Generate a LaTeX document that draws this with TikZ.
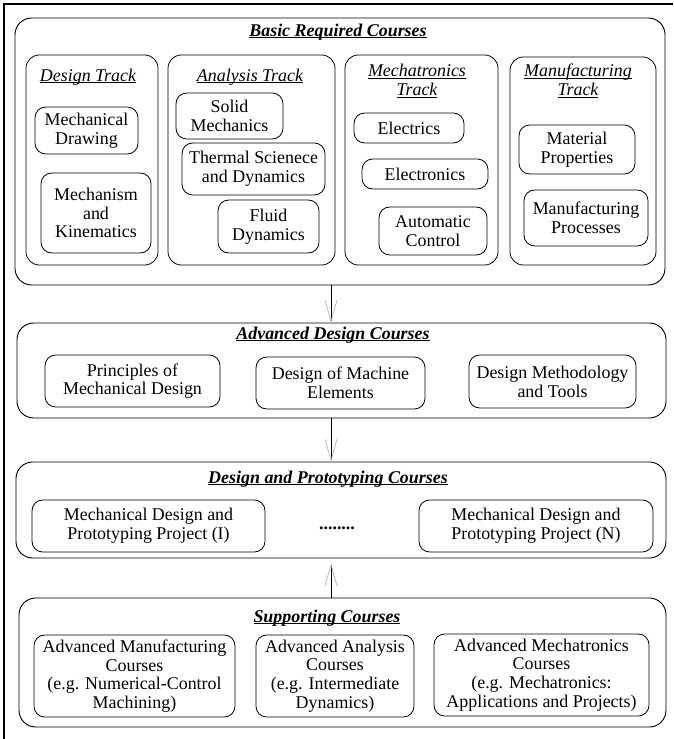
\documentclass[tikz,border=0pt]{standalone}
\usepackage{fontspec}
\setmainfont{Liberation Serif}
\usetikzlibrary{arrows.meta,fit}
\newcommand{\coursefont}{\fontsize{15.3}{16}\selectfont}
\newcommand{\ultext}[1]{\underline{\raisebox{0pt}[\height][0pt]{#1}}}
\tikzset{frame/.style={draw=black,line width=0.9pt}}
\tikzset{group/.style={draw=black,line width=0.8pt,rounded corners=0.5cm,inner sep=0pt}}
\tikzset{track/.style={draw=black,line width=0.7pt,rounded corners=0.4cm,inner sep=0pt}}
\tikzset{course/.style={draw=black,line width=0.7pt,rounded corners=0.32cm,inner sep=0pt,
  align=center,font=\coursefont}}
\tikzset{size/.style 2 args={minimum width=#1*0.03cm,minimum height=#2*0.03cm}}
\tikzset{head/.style={inner sep=0pt,align=center,font=\coursefont\bfseries\itshape}}
\tikzset{trackhead/.style={inner sep=0pt,align=center,font=\coursefont\itshape}}
\tikzset{flow/.style={line width=0.8pt,
  -{Straight Barb[length=6.3mm,width=3.6mm,color=black!30,line width=0.6pt]}}}

\begin{document}
\begin{tikzpicture}[x=0.03cm,y=-0.03cm]
\useasboundingbox (0,0) rectangle (673,739);
% \draw[help lines,step=50] (0,0) grid (673,739);
\draw[frame] (4,739) -- (4,4) -- (673,4);
%
\node[group, fit={(15,18) (665,285)}] (basic) {};
\node[head] (basichd) at (338,31) {\ultext{Basic Required Courses}};
%
\node[track, fit={(26,55) (158,265)}] (design) {};
\node[trackhead] (designhd) at (88,76) {\ultext{Design Track}};
\node[course, size={103}{47}] (drawing) at (86.5,130.5) {Mechanical\\Drawing};
\node[course, size={110}{80}] (kinem) at (96,213) {Mechanism\\and\\Kinematics};
%
\node[track, fit={(168,55) (335,265)}] (analysis) {};
\node[trackhead] (analysishd) at (250,76) {\ultext{Analysis Track}};
\node[course, size={107}{46}] (solid) at (229.5,116) {Solid\\Mechanics};
\node[course, size={143}{52}] (thermal) at (253.5,169) {Thermal Scienece\\and Dynamics};
\node[course, size={101}{53}] (fluid) at (268.5,226.5) {Fluid\\Dynamics};
%
\node[track, fit={(345,55) (498,265)}] (mecha) {};
\node[trackhead] (mechahd) at (417,81) {\ultext{Mechatronics}\\\ultext{Track}};
\node[course, size={110}{30}] (electrics) at (409,128) {Electrics};
\node[course, size={126}{30}] (electronics) at (425,174) {Electronics};
\node[course, size={108}{48}] (control) at (433,231) {Automatic\\Control};
%
\node[track, fit={(510,57) (656,265)}] (manuf) {};
\node[trackhead] (manufhd) at (578,81) {\ultext{Manufacturing}\\\ultext{Track}};
\node[course, size={116}{49}] (material) at (577,149.5) {Material\\Properties};
\node[course, size={124}{56}] (process) at (586,218) {Manufacturing\\Processes};
%
\node[group, fit={(17,323) (666,418)}] (adv) {};
\node[head] (advhd) at (333,334) {\ultext{Advanced Design Courses}};
\node[course, size={175}{52}] (principles) at (132.5,381) {Principles of\\Mechanical Design};
\node[course, size={169}{52}] (elements) at (340.5,383) {Design of Machine\\Elements};
\node[course, size={167}{53}] (methods) at (552.5,381.5) {Design Methodology\\and Tools};
%
\node[group, fit={(16,462) (666,558)}] (proto) {};
\node[head] (protohd) at (328,478) {\ultext{Design and Prototyping Courses}};
\node[course, size={233}{52}] (projone) at (148.5,526) {Mechanical Design and\\Prototyping Project (I)};
\node[inner sep=0pt,font=\coursefont\bfseries] (dots) at (337,528) {........};
\node[course, size={234}{52}] (projn) at (536,526) {Mechanical Design and\\Prototyping Project (N)};
%
\node[group, fit={(19,598) (666,727)}] (support) {};
\node[head] (supporthd) at (327,617) {\ultext{Supporting Courses}};
\node[course, size={201}{82}] (advmanuf) at (134.5,676) {Advanced Manufacturing\\Courses\\(e.g. Numerical-Control\\Machining)};
\node[course, size={158}{82}] (advanal) at (335,676) {Advanced Analysis\\Courses\\(e.g. Intermediate\\Dynamics)};
\node[course, size={215}{82}] (advmech) at (541.5,675) {Advanced Mechatronics\\Courses\\(e.g. Mechatronics:\\Applications and Projects)};
%
\coordinate (axis) at (331,0);
\draw[flow] (basic.south -| axis) -- (adv.north -| axis);
\draw[flow] (adv.south -| axis) -- (proto.north -| axis);
\draw[flow,shorten >=0.15cm] (support.north -| axis) -- (proto.south -| axis);
\end{tikzpicture}
\end{document}
